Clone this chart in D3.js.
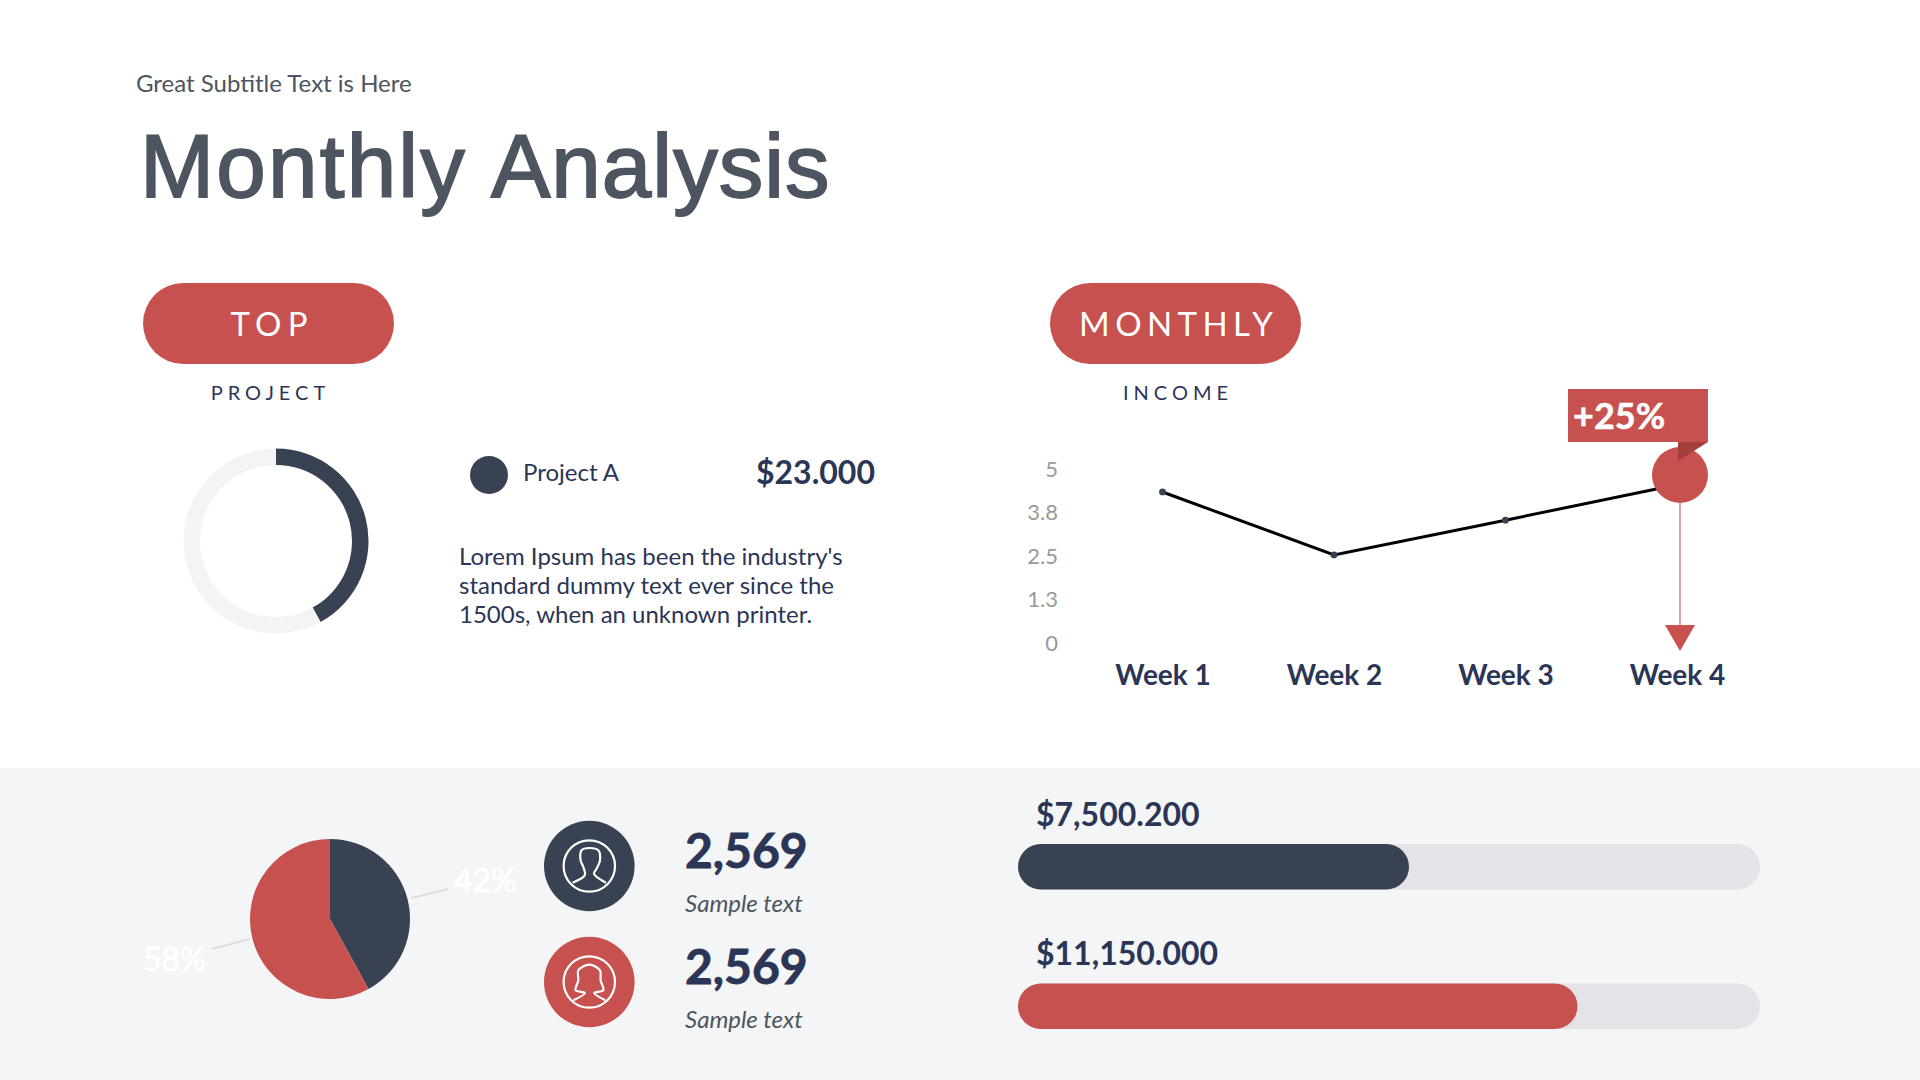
<!DOCTYPE html>
<html><head><meta charset="utf-8">
<script src="https://cdn.jsdelivr.net/npm/d3@7"></script>
<style>
html,body{margin:0;padding:0;background:#fff;overflow:hidden}
svg{display:block;font-family:Lato,sans-serif}
.domain,.tick line{display:none}
</style></head><body><svg id="c" width="1920" height="1080"></svg>
<script>
const RED="#c7514e",DARK="#394252",NAVY="#2b3555",GREY="#4d5560";
const weeks=["Week 1","Week 2","Week 3","Week 4"];
const income=[4.34,2.53,3.53,4.55];
const yTicks=[0,1.25,2.5,3.75,5];
const yTickLabels=["0","1.3","2.5","3.8","5"];
const donutShare=[42,58];
const pieLabels=["42%","58%"];
const pieShare=[42,58];
const barValues=[52.7,75.4];
const barLabels=["$7,500.200","$11,150.000"];
const paragraph=["Lorem Ipsum has been the industry's","standard dummy text ever since the","1500s, when an unknown printer."];

const svg=d3.select("#c");
function txt(x,y,s,o={}){
  const t=svg.append("text").attr("x",x).attr("y",y).text(s)
    .attr("font-size",o.size||20).attr("fill",o.fill||NAVY)
    .attr("font-weight",o.weight||400).attr("text-anchor",o.anchor||"start");
  if(o.ls)t.attr("letter-spacing",o.ls);
  if(o.family)t.attr("font-family",o.family);
  if(o.italic)t.attr("font-style","italic");
  if(o.stroke)t.attr("stroke",o.fill||NAVY).attr("stroke-width",o.stroke);
  return t;
}
// header
txt(136,92,"Great Subtitle Text is Here",{size:24,fill:GREY});
const title=txt(140,197,"",{size:89,fill:GREY,family:"Liberation Sans",stroke:1.8});
title.append("tspan").attr("letter-spacing",2.2).text("Monthly ");
title.append("tspan").attr("x",491).attr("letter-spacing",1).text("Analysis");
// pills
[[143,"TOP",269,6.2],[1050,"MONTHLY",1176,5.4]].forEach(([x,s,cx,ls])=>{
  svg.append("rect").attr("x",x).attr("y",283).attr("width",251).attr("height",81).attr("rx",40.5).attr("fill",RED);
  txt(cx+ls/2,336,s,{size:33,fill:"#fff",anchor:"middle",ls});
});
txt(270.5,400,"PROJECT",{size:20,anchor:"middle",ls:5});
txt(1178,400,"INCOME",{size:20,anchor:"middle",ls:5});
// donut
const donutArc=d3.arc().innerRadius(76).outerRadius(92.5);
const donutG=svg.append("g").attr("transform","translate(276,541)");
donutG.selectAll("path").data(d3.pie().sort(null)(donutShare)).join("path")
  .attr("d",donutArc).attr("fill",(d,i)=>i?"#f4f4f6":DARK);
// legend
svg.append("circle").attr("cx",489).attr("cy",475).attr("r",19).attr("fill",DARK);
txt(523,481,"Project A",{size:24});
txt(756,484,"$23.000",{size:32,weight:700});
paragraph.forEach((l,i)=>txt(459,565+i*29.2,l,{size:24}));
// line chart
const x=d3.scalePoint().domain(weeks).range([1162.5,1677]);
const y=d3.scaleLinear().domain([0,5]).range([643,469]);
svg.append("g").attr("transform","translate(1066,0)")
  .call(d3.axisLeft(y).tickValues(yTicks).tickFormat((d,i)=>yTickLabels[i]).tickSize(0).tickPadding(8))
  .call(g=>g.selectAll("text").attr("font-size",22).attr("fill","#999").attr("font-family","Lato"));
svg.append("g").attr("transform","translate(0,665)")
  .call(d3.axisBottom(x).tickSize(0).tickPadding(0))
  .call(g=>g.selectAll("text").attr("font-size",28).attr("font-weight",700).attr("fill",NAVY).attr("font-family","Lato"));
svg.append("path").datum(income).attr("fill","none").attr("stroke","#000").attr("stroke-width",3)
  .attr("d",d3.line().x((d,i)=>x(weeks[i])).y(d=>y(d)));
svg.selectAll(".pt").data(income.slice(0,3)).join("circle").attr("class","pt")
  .attr("cx",(d,i)=>x(weeks[i])).attr("cy",d=>y(d)).attr("r",3.4).attr("fill",DARK);
// annotation
const mx=x("Week 4")+3;
svg.append("line").attr("x1",mx).attr("x2",mx).attr("y1",490).attr("y2",630).attr("stroke","#d98a88").attr("stroke-width",1.6);
svg.append("path").attr("d",d3.line()([[mx-15,625],[mx+15,625],[mx,651]])+"Z").attr("fill",RED);
svg.append("circle").attr("cx",mx).attr("cy",475).attr("r",28).attr("fill",RED);
svg.append("rect").attr("x",1568).attr("y",389).attr("width",140).attr("height",53).attr("fill",RED);
svg.append("path").attr("d",d3.line()([[1678,442],[1708,442],[1678,461]])+"Z").attr("fill","#a33f3d");
txt(1573,429,"+25%",{size:36,weight:700,fill:"#fff",stroke:0.5});
// bottom band
svg.append("rect").attr("x",0).attr("y",768).attr("width",1920).attr("height",312).attr("fill","#f4f5f7");
// pie
const pieArc=d3.arc().innerRadius(0).outerRadius(80);
svg.append("g").attr("transform","translate(330,919)")
  .selectAll("path").data(d3.pie().sort(null)(pieShare)).join("path")
  .attr("d",pieArc).attr("fill",(d,i)=>i?RED:DARK);
[[411.6,898,448,889],[212,949,249.5,939]].forEach(p=>svg.append("line")
  .attr("x1",p[0]).attr("y1",p[1]).attr("x2",p[2]).attr("y2",p[3]).attr("stroke","#d8d8db").attr("stroke-width",1.3));
txt(454,892,pieLabels[0],{size:32,fill:"#fff",stroke:0.8});
txt(143,971,pieLabels[1],{size:32,fill:"#fff",stroke:0.8});
// icons
const man=[[-16.7,16.7],[-4.5,9.3],[-6,1],[-8.7,-5.7],[-7.7,-15.7],[0,-18],[9,-15.7],[10.7,-5.7],[7.3,2.7],[4.7,7.7],[16.7,16.7]];
const woman=[[-16,18.3],[-4.3,11],[-13.7,8.3],[-11,-1.7],[-11,-11.7],[0,-17.3],[10.7,-11.7],[11.3,-1.7],[14,8.3],[5,11],[16,18.3]];
[[866,DARK,man,"2,569"],[982,RED,woman,"2,569"]].forEach(([cy,col,shape,val],i)=>{
  const g=svg.append("g").attr("transform",`translate(589.3,${cy})`);
  g.append("circle").attr("r",45.3).attr("fill",col);
  g.append("circle").attr("r",25.7).attr("fill","none").attr("stroke","#fff").attr("stroke-width",2.2);
  g.append("path").attr("d",d3.line().curve(d3.curveCatmullRom.alpha(.5))(shape)).attr("fill","none").attr("stroke","#fff").attr("stroke-width",2.2);
  txt(685,868+i*116,val,{size:48,weight:700,stroke:0.8});
  txt(685,912+i*116,"Sample text",{size:24,italic:true,fill:GREY});
});
// progress bars
const bx=d3.scaleLinear().domain([0,100]).range([1018,1760]);
barValues.forEach((v,i)=>{
  const top=844+i*139.5;
  svg.append("rect").attr("x",bx(0)).attr("y",top).attr("width",bx(100)-bx(0)).attr("height",45.5).attr("rx",22.75).attr("fill","#e3e3e8");
  svg.append("rect").attr("x",bx(0)).attr("y",top).attr("width",bx(v)-bx(0)).attr("height",45.5).attr("rx",22.75).attr("fill",i?RED:DARK);
  txt(1036,top-18-i,barLabels[i],{size:32,weight:700});
});
</script></body></html>
